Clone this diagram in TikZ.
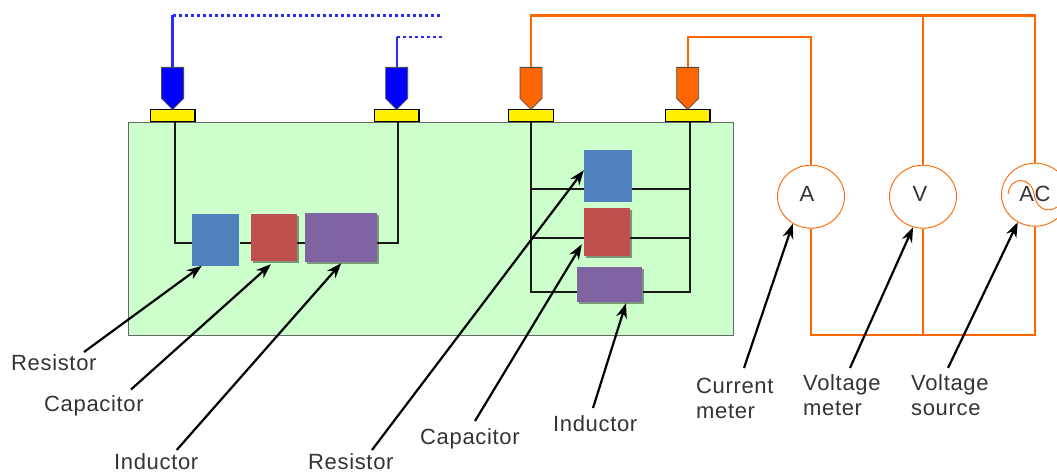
\documentclass[tikz,border=0pt]{standalone}
\usepackage{fontspec}
\setmainfont{Liberation Sans}
\newfontfamily\labelfont[LetterSpace=3]{Liberation Sans}
\usetikzlibrary{arrows.meta,shadows,shapes.geometric,shapes.symbols}
\definecolor{boardGreen}{HTML}{CCFFCC}
\definecolor{wireOrange}{HTML}{FF6600}
\definecolor{wireBlue}{HTML}{2A2AFF}
\definecolor{boxBlue}{HTML}{4F81BD}
\definecolor{boxRed}{HTML}{C0504D}
\definecolor{boxPurple}{HTML}{8064A2}
\begin{document}
\begin{tikzpicture}
        [x=1pt,y=-1pt,
        pad/.style={rectangle,draw=black,fill=yellow,line width=1.3pt,minimum width=44.5pt,minimum height=12.5pt,inner sep=0pt},
        probeBlue/.style={shape=signal,signal to=south,signal pointer angle=90,draw=black!70,fill=blue,line width=0.8pt,minimum width=22pt,minimum height=31pt,inner sep=0pt,anchor=north},
        probeOrange/.style={probeBlue,fill=wireOrange},
        box/.style={rectangle,minimum width=#1,inner sep=0pt},
        boxShadow/.style={drop shadow={shadow xshift=2pt,shadow yshift=-2pt,fill=black,opacity=0.4}},
        meter/.style={ellipse,draw=wireOrange,line width=0.9pt,fill=white,minimum width=67pt,minimum height=63pt,inner sep=0pt},
        meterText/.style={font=\labelfont\fontsize{22}{22}\selectfont,text=black!80,inner sep=0pt},
        wire/.style={line width=2.3pt,black!90},
        orangeWire/.style={line width=2.3pt,wireOrange},
        blueWire/.style={line width=2.3pt,wireBlue},
        label/.style={anchor=base west,align=left,inner sep=0pt,font=\labelfont\fontsize{22}{25}\selectfont,text=black!80},
        twoLines/.style={label,anchor=west},
        pointer/.style={line width=2.2pt,-{Stealth[length=15pt,width=11pt]}}]
        \useasboundingbox (0,0) rectangle (1057,473);

        \node[draw=black!60,fill=boardGreen,line width=0.8pt,minimum width=605pt,minimum height=213pt,inner sep=0pt] (board) at (430.5,228.5) {};

        \node[pad] (padA) at (172.8,115.6) {};
        \node[pad] (padB) at (396.8,115.6) {};
        \node[pad] (padC) at (531,115.6) {};
        \node[pad] (padD) at (687.7,115.6) {};

        \node[probeBlue] (probeA) at (172.6,67) {};
        \node[probeBlue] (probeB) at (396.7,67) {};
        \node[probeOrange] (probeC) at (531,67) {};
        \node[probeOrange] (probeD) at (687.7,67) {};

        % series branch
        \node[box=47.6pt,minimum height=51.7pt,fill=boxBlue] (resA) at (215.5,239.8) {};
        \node[box=45.7pt,minimum height=47pt,fill=boxRed,boxShadow] (capA) at (273.9,237.5) {};
        \node[box=71.7pt,minimum height=49pt,fill=boxPurple,boxShadow] (indA) at (341.2,237.5) {};

        % parallel branch
        \node[box=47.7pt,minimum height=52.3pt,fill=boxBlue] (resB) at (607.9,176.2) {};
        \node[box=45.7pt,minimum height=48pt,fill=boxRed,boxShadow] (capB) at (606.9,232.3) {};
        \node[box=65.6pt,minimum height=35.3pt,fill=boxPurple,boxShadow] (indB) at (609.5,284.4) {};

        \node[meter] (meterA) at (811,196.7) {};
        \node[meter] (meterV) at (923,196.7) {};
        \node[meter] (meterAC) at (1035,194.7) {};
        \node[meterText] (textA) at (807,193.5) {A};
        \node[meterText] (textV) at (920,193.5) {V};
        \draw[wireOrange,line width=0.9pt] (1008,194) .. controls (1010,176) and (1031,176) .. (1034,194) .. controls (1037,212) and (1050,212) .. (1057,207);
        \node[meterText] (textAC) at (1035,194) {AC};

        \coordinate (topR) at (1035,15.5);
        \coordinate (topD) at (687.7,37);
        \coordinate (botR) at (1035,334.7);
        \coordinate (endA) at (442,15.5);
        \coordinate (endB) at (442,36.7);

        \draw[blueWire] (probeA.north) -- (probeA.north |- endA);
        \draw[blueWire] (probeB.north) -- (probeB.north |- endB);
        \draw[blueWire,dash pattern=on 3.2pt off 2.8pt] (probeA.north |- endA) -- (endA);
        \draw[blueWire,dash pattern=on 3.2pt off 2.8pt] (probeB.north |- endB) -- (endB);

        \draw[orangeWire] (probeC.north) |- (topR) -- (meterAC.north);
        \draw[orangeWire] (meterV.north) -- (meterV.north |- topR);
        \draw[orangeWire] (probeD.north) -- (topD) -| (meterA.north);
        \draw[orangeWire] (meterA.south) |- (botR) -- (meterAC.south);
        \draw[orangeWire] (meterV.south) -- (meterV.south |- botR);

        \coordinate (seriesL) at (174.7,243);
        \coordinate (seriesR) at (397.7,243);
        \draw[wire] ([xshift=1.9pt]padA.south) -- (seriesL) -- (resA.west |- seriesL);
        \draw[wire] (resA.east |- seriesL) -- (capA.west |- seriesL);
        \draw[wire] (capA.east |- seriesL) -- (indA.west |- seriesL);
        \draw[wire] (indA.east |- seriesL) -- (seriesR) -- ([xshift=0.9pt]padB.south);

        \coordinate (railLa) at (531,188.7);
        \coordinate (railLb) at (531,237.7);
        \coordinate (railLc) at (531,292.3);
        \coordinate (railRa) at (689.7,188.7);
        \coordinate (railRb) at (689.7,237.7);
        \coordinate (railRc) at (689.7,292.3);
        \draw[wire] (padC.south) -- (railLc) -- (indB.west |- railLc);
        \draw[wire] ([xshift=2pt]padD.south) -- (railRc) -- (indB.east |- railRc);
        \draw[wire] (railLa) -- (resB.west |- railLa);
        \draw[wire] (railRa) -- (resB.east |- railRa);
        \draw[wire] (railLb) -- (capB.west |- railLb);
        \draw[wire] (railRb) -- (capB.east |- railRb);

        \node[label] (lblResA) at (11,370.7) {Resistor};
        \node[label] (lblCapA) at (44,411.7) {Capacitor};
        \node[label] (lblIndA) at (114,469.3) {Inductor};
        \node[label] (lblResB) at (308,469.3) {Resistor};
        \node[label] (lblCapB) at (420,444) {Capacitor};
        \node[label] (lblIndB) at (553,431) {Inductor};
        \node[twoLines] (lblCurrent) at (696,398.5) {Current\\meter};
        \node[twoLines] (lblVoltM) at (803,395.5) {Voltage\\meter};
        \node[twoLines] (lblVoltS) at (911,395.5) {Voltage\\source};

        \coordinate (tailResA) at (84,352);
        \coordinate (tailCapA) at (131,389.5);
        \coordinate (tailIndA) at (176.7,450);
        \coordinate (tailResB) at (372,450);
        \coordinate (tailCapB) at (475,421);
        \coordinate (tailIndB) at (593,408);
        \coordinate (tailCurrent) at (744,368);
        \coordinate (tailVoltM) at (850,368);
        \coordinate (tailVoltS) at (948,368);

        \draw[pointer] (tailResA) -- ([xshift=-13.8pt]resA.south);
        \draw[pointer] (tailCapA) -- ([xshift=-3pt,yshift=-3pt]capA.south);
        \draw[pointer] (tailIndA) -- ([yshift=-1pt]indA.south);
        \draw[pointer] (tailResB) -- ([yshift=6pt]resB.west);
        \draw[pointer] (tailCapB) -- ([xshift=-2pt,yshift=-12pt]capB.west);
        \draw[pointer] (tailIndB) -- ([xshift=16.5pt,yshift=-1pt]indB.south);
        \draw[pointer] (tailCurrent) -- (meterA.236);
        \draw[pointer] (tailVoltM) -- (meterV.252);
        \draw[pointer] (tailVoltS) -- (meterAC.238);
    \end{tikzpicture}
\end{document}
